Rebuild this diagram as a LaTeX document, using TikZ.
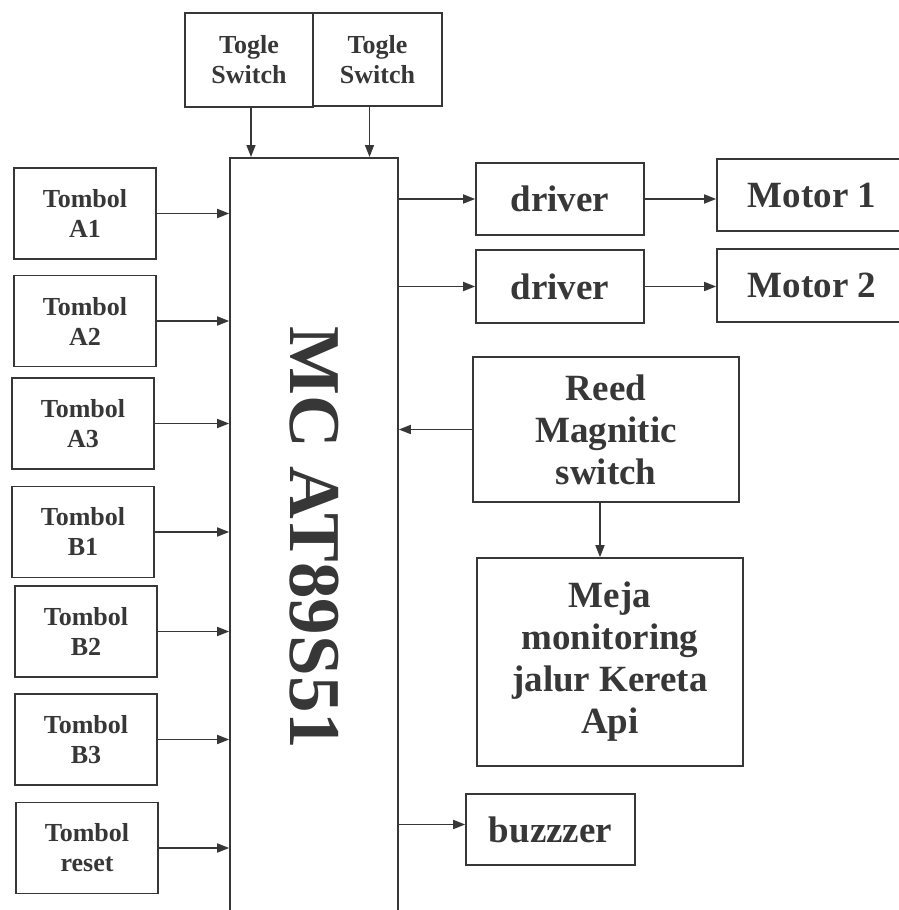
\documentclass[tikz,border=0pt]{standalone}
\usepackage{fontspec}
\setmainfont{Liberation Serif}
\usepackage{tikz}
\usetikzlibrary{arrows.meta, positioning, calc}
\definecolor{Tinta}{RGB}{55,55,55}

\begin{document}
\begin{tikzpicture}[x=1pt, y=-1pt,
	kotak/.style={draw=Tinta, line width=1.6pt, text=Tinta, inner sep=0pt,
		align=center, anchor=center},
	kecil/.style={kotak, font=\fontsize{26}{30}\selectfont\bfseries,
		minimum width=142pt, minimum height=91pt},
	besar/.style={kotak, font=\fontsize{37}{42}\selectfont\bfseries},
	panah/.style={draw=Tinta, line width=1.6pt, -{Triangle[length=12pt, width=9pt]}}]

	\useasboundingbox (0,0) rectangle (899,910);

	% mikrokontroler, bagian bawah keluar dari gambar
	\node[kotak, minimum width=168pt, minimum height=760pt, anchor=north,
		font=\fontsize{73}{80}\selectfont\bfseries] (mc) at (314,157)
		{\rotatebox{-90}{MC AT89S51}};

	% saklar di atas
	\node[kecil, minimum width=128pt, minimum height=94pt] (tg1) at (249,60) {Togle\\Switch};
	\node[kecil, minimum width=129pt, minimum height=93pt] (tg2) at (377.5,59.5) {Togle\\Switch};
	\draw[panah] ([xshift=2pt]tg1.south) -- ([xshift=2pt]tg1.south |- mc.north);
	\draw[panah] ([xshift=-8pt]tg2.south) -- ([xshift=-8pt]tg2.south |- mc.north);

	% tombol masukan
	\foreach \n/\t/\x/\y in {a1/A1/85/213.5, a2/A2/85/321, a3/A3/83/423.5,
	                         b1/B1/83/532, b2/B2/86/631.5, b3/B3/86/739.5,
	                         rs/reset/87/848}{
		\node[kecil] (\n) at (\x,\y) {Tombol\\\t};
		\draw[panah] (\n.east) -- (\n.east -| mc.west);
	}

	% keluaran
	\node[besar, minimum width=168pt, minimum height=72pt] (drv1) at (560,199) {driver};
	\node[besar, minimum width=168pt, minimum height=73pt] (drv2) at (560,286.5) {driver};
	\node[besar, minimum width=190pt, minimum height=72pt] (mot1) at (812,195) {Motor 1};
	\node[besar, minimum width=190pt, minimum height=73pt] (mot2) at (812,285.5) {Motor 2};
	\draw[panah] (drv1.west -| mc.east) -- (drv1.west);
	\draw[panah] (drv2.west -| mc.east) -- (drv2.west);
	\draw[panah] (drv1.east) -- (drv1.east -| mot1.west);
	\draw[panah] (drv2.east) -- (drv2.east -| mot2.west);

	\node[besar, minimum width=266pt, minimum height=145pt] (reed) at (606,429.5)
		{Reed\\Magnitic\\switch};
	\node[besar, minimum width=266pt, minimum height=208pt] (meja) at (610,662)
		{Meja\\monitoring\\jalur Kereta\\Api};
	\draw[panah] (reed.west) -- (reed.west -| mc.east);
	\draw[panah] ([xshift=-6pt]reed.south) -- ([xshift=-6pt]reed.south |- meja.north);

	\node[besar, minimum width=169pt, minimum height=71pt] (buz) at (550.5,829.5) {buzzzer};
	\draw[panah] ([yshift=5pt]buz.west -| mc.east) -- ([yshift=5pt]buz.west);
\end{tikzpicture}
\end{document}
